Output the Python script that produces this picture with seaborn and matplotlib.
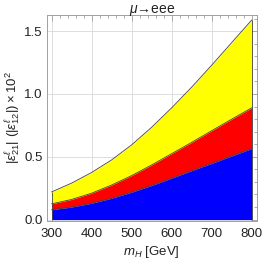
import numpy as np
import pandas as pd
import seaborn as sns
import matplotlib
matplotlib.use('Agg')
import matplotlib.pyplot as plt
from matplotlib.ticker import MultipleLocator

# values (x10^2)
m_H = [300, 350, 400, 450, 500, 550, 600, 650, 700, 750, 800]
yellow_top = [0.22, 0.29, 0.375, 0.475, 0.595, 0.735, 0.89, 1.055, 1.23, 1.41, 1.59]
red_top = [0.125, 0.16, 0.21, 0.275, 0.35, 0.435, 0.525, 0.615, 0.708, 0.80, 0.89]
blue_top = [0.078, 0.10, 0.13, 0.17, 0.218, 0.272, 0.33, 0.39, 0.448, 0.507, 0.566]

x_ticks = [300, 400, 500, 600, 700, 800]
y_ticks = [0.0, 0.5, 1.0, 1.5]

df = pd.DataFrame({'m': m_H, 'yellow': yellow_top, 'red': red_top, 'blue': blue_top})

sns.set_style('white')
plt.rcParams['font.family'] = ['Liberation Sans', 'DejaVu Sans']
plt.rcParams['mathtext.fontset'] = 'custom'
plt.rcParams['mathtext.rm'] = 'Liberation Sans'
plt.rcParams['mathtext.it'] = 'Liberation Sans:italic'

frame_col = '#a0a0a0'
text_col = '#222222'
edge_col = '#444444'

fig = plt.figure(figsize=(2.64, 2.61), dpi=100)
ax = fig.add_axes([0.177, 0.153, 0.795, 0.79])

# grid behind everything
for xv in x_ticks:
    ax.axvline(xv, color='#dddddd', lw=0.7, zorder=0)
for yv in y_ticks:
    ax.axhline(yv, color='#dddddd', lw=0.7, zorder=0)

zero = np.zeros(len(df))
ax.fill_between(df['m'], df['red'], df['yellow'], facecolor='#ffff00', lw=0, zorder=2)
ax.fill_between(df['m'], df['blue'], df['red'], facecolor='#ff0000', lw=0, zorder=2)
ax.fill_between(df['m'], zero, df['blue'], facecolor='#0000ff', lw=0, zorder=2)
for col in ['yellow', 'red', 'blue']:
    sns.lineplot(data=df, x='m', y=col, ax=ax, color=edge_col, lw=0.6, zorder=3)
# closing edges of the region
ends = df.iloc[[0, -1]]
ax.vlines(ends['m'], 0, ends['yellow'], color=edge_col, lw=0.6, zorder=3)

ax.set_xlim(288, 812)
ax.set_ylim(-0.012, 1.63)
ax.set_xticks(x_ticks)
ax.set_yticks(y_ticks)
ax.set_yticklabels(['0.0', '0.5', '1.0', '1.5'])
ax.xaxis.set_minor_locator(MultipleLocator(20))
ax.yaxis.set_minor_locator(MultipleLocator(0.1))

ax.tick_params(which='both', direction='in', top=True, right=True,
               color=frame_col, width=0.6, labelsize=9.5, labelcolor=text_col)
ax.tick_params(which='major', length=4)
ax.tick_params(which='minor', length=2)
ax.tick_params(axis='x', pad=5)
ax.tick_params(axis='y', pad=3)
for sp in ax.spines.values():
    sp.set_color(frame_col)
    sp.set_linewidth(0.7)

ax.set_xlabel(r'$m_H$ [GeV]', fontsize=9.5, color=text_col, labelpad=3)
ax.set_ylabel(r'$|\epsilon^{\ell}_{21}|\ (|\epsilon^{\ell}_{12}|) \times 10^2$',
              fontsize=9.5, color=text_col, labelpad=1)
ax.set_title(r'$\mu$→eee', fontsize=10, color=text_col, pad=1.5)

fig.savefig('out.png', dpi=100)
